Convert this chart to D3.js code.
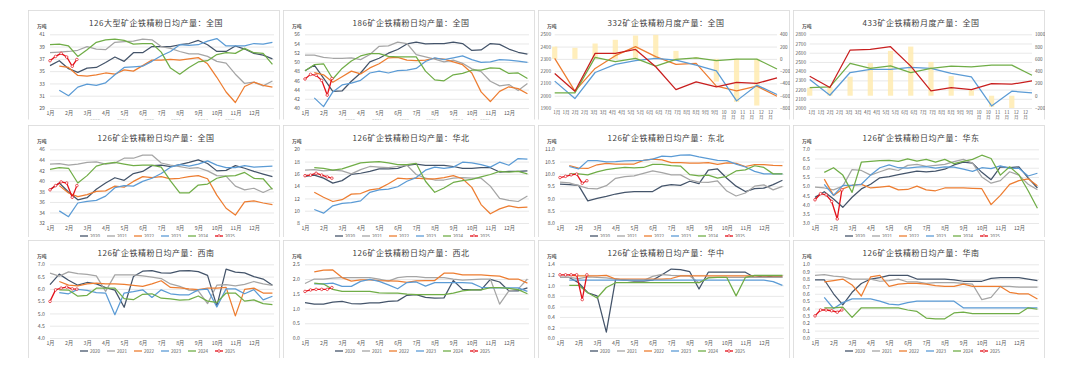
<!DOCTYPE html>
<html>
<head>
<meta charset="utf-8">
<script src="https://cdn.jsdelivr.net/npm/d3@7"></script>
<style>
  body { margin: 0; background: #fff; }
  text { font-family: "Noto Sans CJK SC", "DejaVu Sans", sans-serif; }
</style>
</head>
<body>
<svg id="chart" width="1080" height="371"></svg>
<script>
// ---- shared labels
var years = ["2020", "2021", "2022", "2023", "2024", "2025"];
var yearColors = ["#44546A", "#A5A5A5", "#ED7D31", "#5B9BD5", "#70AD47", "#E3121B"];
var monthLabels = ["1月","2月","3月","4月","5月","6月","7月","8月","9月","10月","11月","12月"];
var halfMonthLabels = ["1月","1月","2月","2月","3月","3月","4月","4月","5月","5月","6月","6月",
                       "7月","7月","8月","8月","9月","9月","10月","10月","11月","11月","12月","12月"];
// 2025 weekly points, in half-month units from 1 Jan
var x2025 = [0, 0.6, 1.2, 1.8, 2.4, 2.9];

// ---- panel 1: 126大型 全国
var p1Ticks = [29, 31, 33, 35, 37, 39, 41];
var p1 = [
  [35.9,36.7,35.4,34.8,35.5,35.6,36.4,37.3,36.6,38.0,38.0,39.0,39.0,39.0,39.3,39.5,40.0,39.3,38.2,38.2,39.1,38.6,37.9,37.6,37.0],
  [38.0,38.1,38.2,38.4,39.0,38.6,38.5,39.7,39.8,39.9,40.2,40.1,39.0,38.7,38.2,37.8,37.8,37.4,36.6,36.3,34.5,33.0,33.2,32.6,33.4],
  [null,35.8,35.6,34.3,34.2,34.4,34.7,34.5,35.2,35.0,35.9,36.8,36.8,36.9,36.8,37.0,37.2,36.2,34.0,31.6,29.9,32.5,33.2,32.7,32.4],
  [null,31.9,31.0,32.4,32.9,32.7,33.1,34.4,35.6,35.7,35.8,36.6,37.5,38.2,39.3,39.2,39.3,39.9,40.3,39.1,39.1,39.1,39.5,39.4,39.7],
  [39.3,39.4,39.1,37.4,38.5,39.7,40.1,40.2,40.0,39.4,39.5,39.5,38.1,35.5,34.5,35.6,36.5,36.7,37.7,38.0,37.9,38.7,38.0,37.9,36.1]
];
var p1Cur = [36.7, 37.4, 37.9, 37.3, 35.8, 36.9];

// ---- panel 2: 186 全国
var p2Ticks = [40, 42, 44, 46, 48, 50, 52, 54, 56];
var p2 = [
  [48.1,49.3,46.5,43.6,43.7,45.8,47.6,50.0,50.8,51.9,52.7,53.9,54.3,53.9,54.0,54.0,54.3,54.0,52.5,52.6,54.0,53.8,52.8,52.1,51.7],
  [51.5,51.5,51.0,50.8,50.8,50.9,50.5,51.6,53.4,53.5,54.3,54.0,51.6,51.1,50.6,50.0,50.4,49.7,48.5,47.9,45.8,44.8,45.1,43.8,45.3],
  [null,47.7,47.2,45.6,46.8,48.0,47.4,48.7,49.6,50.9,51.0,50.4,50.3,50.4,50.8,50.6,50.0,49.4,47.6,43.5,41.4,43.6,44.6,44.2,43.1],
  [null,42.2,40.3,43.5,45.0,45.4,46.0,47.6,48.0,47.6,48.1,48.2,48.6,50.1,50.9,50.5,50.9,51.3,50.5,49.9,50.0,50.5,50.4,50.2,49.9],
  [48.1,49.4,49.6,46.3,48.6,50.2,51.3,51.8,51.8,51.2,51.1,51.1,51.1,48.0,46.1,45.9,47.2,47.5,48.2,48.2,48.7,48.6,47.5,47.6,46.4]
];
var p2Cur = [46.3, 47.3, 47.1, 46.0, 42.8, 46.4];

// ---- panel 3: 332 月度 (left: output, right: 累计同比)
var p3Ticks = [1900, 2000, 2100, 2200, 2300, 2400, 2500];
var p3RightTicks = [-800, -600, -400, -200, 0, 200, 400];
var p3Colors = ["#ED7D31", "#5B9BD5", "#70AD47", "#C81E1E"];
var p3 = [
  [2304, 2037, 2222, 2326, 2400, 2318, 2255, 2263, 2078, 2040, 2078, 1996],
  [2119, 1977, 2189, 2255, 2285, 2304, 2290, 2249, 2203, 1958, 2086, 2010],
  [2023, 2023, 2312, 2277, 2304, 2241, 2296, 2309, 2285, 2298, 2298, 2217],
  [2181, 2037, 2345, 2345, 2377, 2236, 2050, 2113, 2072, 2108, 2100, 2146]
];
var p3Yoy = [200, 180, 250, 310, 380, 390, 130, 30, -370, -700, -760, null];

// ---- panel 4: 433 月度
var p4Ticks = [2000, 2100, 2200, 2300, 2400, 2500, 2600, 2700, 2800];
var p4RightTicks = [-200, 0, 200, 400, 600, 800, 1000];
var p4Colors = ["#5B9BD5", "#70AD47", "#C81E1E"];
var p4 = [
  [2309, 2138, 2385, 2418, 2418, 2440, 2429, 2375, 2338, 2022, 2182, 2164],
  [2222, 2229, 2484, 2429, 2458, 2385, 2429, 2455, 2447, 2465, 2465, 2356],
  [2345, 2222, 2629, 2636, 2665, 2455, 2185, 2222, 2200, 2265, 2258, 2295]
];
var p4Yoy = [130, 140, 310, 530, 730, 800, 550, 320, 90, -180, -200, null];

// ---- panel 5: 126 全国
var p5Ticks = [32, 34, 36, 38, 40, 42, 44, 46];
var p5 = [
  [38.3,39.6,37.9,36.4,36.8,38.4,39.6,40.6,40.1,41.4,41.8,42.9,43.0,42.7,43.1,43.5,44.0,43.3,41.9,42.0,42.9,42.4,41.8,41.3,40.8],
  [43.2,43.3,43.0,43.2,43.5,43.6,43.2,43.4,44.3,44.3,44.9,44.9,43.4,43.0,42.7,42.4,42.5,41.9,41.0,40.9,39.0,38.3,38.6,37.8,38.6],
  [null,39.1,37.7,37.0,37.4,38.0,38.1,39.0,38.8,39.9,40.8,40.6,40.8,40.4,40.5,40.8,41.0,40.4,37.3,34.8,33.5,36.0,36.2,35.8,35.5],
  [null,34.3,33.2,35.8,36.1,36.3,37.1,38.7,39.1,39.0,39.9,40.5,41.4,42.6,43.1,42.8,43.2,43.8,43.0,42.5,42.5,42.9,42.6,42.7,42.8],
  [42.2,42.5,42.4,39.6,41.0,42.8,43.3,43.5,43.2,42.9,43.0,43.0,42.6,40.0,37.7,37.7,39.2,39.4,40.5,40.9,41.0,41.6,40.5,40.4,38.4]
];
var p5Cur = [38.3, 39.1, 39.8, 39.6, 36.9, 39.1];

// ---- panel 6: 华北
var p6Ticks = [8, 10, 12, 14, 16, 18, 20];
var p6 = [
  [15.6,15.8,15.3,14.5,14.9,15.9,16.1,16.4,16.8,16.8,16.9,17.4,17.6,17.4,17.4,17.4,17.2,16.9,16.9,17.0,17.0,16.3,16.4,16.4,16.5],
  [16.6,16.7,16.5,16.6,16.5,16.0,16.7,17.2,17.1,17.0,17.2,17.4,15.9,15.3,15.0,15.0,15.3,15.4,15.3,15.3,14.0,12.0,11.7,11.5,12.4],
  [null,13.0,12.2,11.5,11.8,12.7,12.8,13.4,13.6,14.4,15.3,15.2,15.3,15.2,15.2,15.4,15.7,15.2,13.8,11.0,9.5,10.3,10.8,10.5,10.6],
  [null,10.2,9.6,10.8,11.2,11.3,11.6,13.0,13.4,13.5,13.9,14.8,15.4,16.6,17.1,16.9,17.1,17.9,17.8,17.5,17.1,17.9,17.4,18.5,18.4],
  [null,17.0,16.9,16.6,16.8,17.3,17.8,17.9,18.0,17.8,17.5,17.5,17.7,14.8,13.0,13.7,14.6,14.9,15.1,15.5,15.9,16.4,16.3,16.4,16.0]
];
var p6Cur = [15.7, 15.8, 16.1, 15.8, 15.5, 15.3];

// ---- panel 7: 东北
var p7Ticks = [8.0, 8.5, 9.0, 9.5, 10.0, 10.5, 11.0];
var p7 = [
  [9.58,9.56,9.53,8.9,9.0,9.08,9.18,9.25,9.28,9.28,9.28,9.50,9.56,9.53,9.70,9.60,10.15,10.2,9.82,9.50,9.28,9.40,9.42,9.56,9.74],
  [9.66,9.63,9.52,9.41,9.39,9.52,9.82,9.89,9.92,10.02,10.12,10.05,9.96,9.96,9.76,9.66,9.65,9.71,9.30,9.10,9.22,9.50,9.55,9.35,9.49],
  [null,10.34,10.23,10.22,10.37,10.43,10.4,10.4,10.4,10.55,10.6,10.57,10.46,10.46,10.44,10.44,10.46,10.39,10.45,10.43,10.3,10.38,10.38,10.35,10.34],
  [null,10.3,10.2,10.54,10.54,10.49,10.5,10.53,10.54,10.55,10.6,10.72,10.7,10.76,10.77,10.69,10.62,10.55,10.54,10.4,10.28,10.1,10.0,10.0,10.0],
  [null,10.0,10.0,9.96,10.08,10.17,10.22,10.26,10.24,10.26,10.39,10.39,10.34,10.32,9.97,9.92,9.95,9.83,9.9,10.12,10.16,10.33,10.26,10.0,10.0]
];
var p7Cur = [9.85, 9.9, 9.96, 9.99, 9.62, 9.72];

// ---- panel 8: 华东
var p8Ticks = [3.0, 3.5, 4.0, 4.5, 5.0, 5.5, 6.0, 6.5, 7.0];
var p8 = [
  [4.39,4.7,4.3,3.85,4.4,4.85,5.1,5.45,5.52,5.62,5.72,5.82,5.78,5.82,5.92,6.15,6.3,6.25,5.75,5.35,6.05,6.0,6.05,5.45,4.9],
  [4.95,4.9,4.8,5.0,5.9,5.85,5.6,5.78,5.95,5.85,6.13,6.18,6.08,6.13,6.18,6.33,6.45,6.25,5.5,5.16,5.3,5.78,5.6,5.1,4.8],
  [null,5.38,4.5,4.85,5.05,5.1,4.9,4.95,5.0,4.8,4.82,5.0,4.8,4.75,4.9,4.9,4.9,4.88,4.86,4.0,4.5,5.1,5.3,5.4,5.02],
  [null,5.1,4.5,5.04,5.04,5.1,5.6,6.0,6.15,6.0,5.98,6.03,6.06,5.98,6.05,6.03,5.92,5.8,6.0,5.95,6.1,5.97,5.97,5.55,5.7],
  [null,5.75,6.0,5.6,4.66,6.3,6.35,6.39,6.4,6.35,6.48,6.36,6.45,6.3,6.45,6.22,6.35,6.45,6.68,6.5,5.6,6.05,5.62,4.75,3.8]
];
var p8Cur = [4.26, 4.59, 4.53, 4.17, 3.22, 4.8];

// ---- panel 9: 西南
var p9Ticks = [4.0, 4.5, 5.0, 5.5, 6.0, 6.5, 7.0];
var p9 = [
  [6.17,6.6,6.35,6.15,6.26,6.2,6.05,5.95,5.25,6.5,6.72,6.74,6.65,6.64,6.73,6.74,6.7,6.55,5.3,6.8,6.68,6.65,6.5,6.4,6.15],
  [6.64,6.52,6.69,6.62,6.59,6.53,5.9,6.57,6.57,6.57,6.53,6.48,6.42,6.2,6.1,5.95,5.92,5.4,6.15,6.17,6.12,6.18,6.3,6.2,6.14],
  [null,6.3,6.15,6.12,6.2,6.23,6.2,6.2,6.18,6.14,6.1,6.2,6.33,6.06,6.04,6.0,5.97,6.03,6.03,6.06,4.9,5.98,6.03,5.83,5.83],
  [null,5.85,5.8,5.98,5.94,5.85,5.83,4.95,5.83,5.89,5.96,5.65,5.96,5.8,5.76,5.76,5.96,5.99,5.26,6.0,6.0,5.8,5.97,5.55,5.7],
  [null,5.96,5.95,5.7,5.74,6.03,6.03,6.03,5.6,5.56,5.78,5.8,5.62,5.59,5.54,5.56,5.71,5.5,5.45,5.83,5.83,5.5,5.55,5.4,5.36]
];
var p9Cur = [5.49, 5.96, 6.03, 6.07, 6.0, 5.99];

// ---- panel 10: 西北
var p10Ticks = [0.0, 0.5, 1.0, 1.5, 2.0, 2.5];
var p10 = [
  [1.2,1.15,1.15,1.22,1.24,1.17,1.16,1.19,1.19,1.24,1.26,1.45,1.47,1.38,1.35,1.36,1.95,1.65,1.63,1.63,1.99,1.9,1.6,1.6,1.7],
  [1.85,2.0,2.0,2.03,2.05,2.05,2.05,2.05,2.0,1.93,2.05,2.08,2.08,2.05,2.05,2.05,2.0,1.96,1.98,2.0,2.0,1.15,1.6,1.66,2.0],
  [null,2.24,2.3,2.31,2.05,1.93,1.97,1.97,1.95,1.94,1.93,1.89,1.94,1.95,1.95,2.2,2.2,2.14,2.14,2.14,2.12,2.1,2.0,2.0,1.86],
  [null,1.84,1.84,1.86,1.75,1.75,1.92,1.99,1.92,1.8,1.67,1.88,1.9,1.76,1.88,1.88,1.88,1.88,1.86,1.72,1.7,1.7,1.7,1.7,1.58],
  [null,1.86,1.83,1.65,1.58,1.58,1.58,1.58,1.53,1.52,1.52,1.49,1.47,1.47,1.47,1.47,1.52,1.6,1.63,1.63,1.71,1.71,1.68,1.64,1.5]
];
var p10Cur = [1.58, 1.63, 1.65, 1.65, 1.65, 1.71];

// ---- panel 11: 华中
var p11Ticks = [0.0, 0.2, 0.4, 0.6, 0.8, 1.0, 1.2, 1.4];
var p11 = [
  [1.15,1.15,1.05,0.86,0.80,0.11,1.12,1.1,1.08,1.08,1.1,1.2,1.31,1.3,1.26,0.93,1.25,1.25,1.25,1.25,1.25,1.15,1.18,1.16,1.16],
  [1.15,1.15,1.13,1.16,1.15,1.14,1.12,1.1,1.09,1.09,1.17,1.21,1.19,1.18,1.18,1.05,1.15,1.15,1.15,1.15,1.15,1.15,1.15,1.15,1.15],
  [null,1.19,1.18,1.18,1.18,1.19,1.12,1.12,1.12,1.12,1.12,1.12,1.13,1.18,1.18,1.18,1.18,1.18,1.18,1.18,1.18,1.18,1.18,1.18,1.18],
  [null,1.1,1.1,1.1,1.1,1.1,1.1,1.1,1.1,1.1,1.1,1.1,1.1,1.1,1.1,1.1,1.1,1.1,1.1,1.1,1.1,1.1,1.1,1.07,1.0],
  [null,1.0,1.0,0.86,0.76,0.96,1.05,1.05,1.05,1.05,1.05,1.05,1.05,1.05,1.05,1.05,1.14,1.15,1.15,0.8,1.15,1.19,1.19,1.19,1.19]
];
var p11Cur = [1.2, 1.2, 1.2, 1.2, 0.73, 1.2];

// ---- panel 12: 华南
var p12Ticks = [0.0, 0.1, 0.2, 0.3, 0.4, 0.5, 0.6, 0.7, 0.8, 0.9, 1.0];
var p12 = [
  [0.79,0.79,0.6,0.45,0.62,0.74,0.8,0.82,0.85,0.85,0.85,0.8,0.8,0.8,0.8,0.79,0.77,0.77,0.77,0.81,0.82,0.82,0.82,0.8,0.78],
  [0.85,0.86,0.84,0.83,0.8,0.8,0.8,0.77,0.78,0.8,0.76,0.76,0.74,0.75,0.75,0.75,0.74,0.73,0.52,0.55,0.7,0.7,0.69,0.69,0.69],
  [null,0.76,0.78,0.8,0.72,0.57,0.83,0.85,0.7,0.73,0.74,0.74,0.73,0.71,0.7,0.7,0.73,0.7,0.7,0.7,0.7,0.62,0.6,0.6,0.53],
  [null,0.55,0.4,0.48,0.53,0.53,0.53,0.5,0.46,0.45,0.48,0.5,0.5,0.5,0.5,0.5,0.41,0.41,0.41,0.41,0.41,0.41,0.41,0.41,0.41],
  [null,0.41,0.41,0.42,0.28,0.41,0.41,0.41,0.41,0.41,0.38,0.36,0.27,0.26,0.26,0.34,0.35,0.33,0.33,0.33,0.33,0.33,0.33,0.41,0.39]
];
var p12Cur = [0.30, 0.38, 0.38, 0.37, 0.35, 0.38];

// ---- layout
var colX = [28, 283, 538, 793];
var rowY = [10, 125, 240];
var rowH = [109.5, 112, 118];
var panelW = 252;
var plotTop = 24.3, plotBot = 98;

var panels = [
  {r:0, c:0, kind:"daily", title:"126大型矿企铁精粉日均产量：全国", ticks:p1Ticks, series:p1, cur:p1Cur, fmt:d3.format("d")},
  {r:0, c:1, kind:"daily", title:"186矿企铁精粉日均产量：全国", ticks:p2Ticks, series:p2, cur:p2Cur, fmt:d3.format("d")},
  {r:0, c:2, kind:"month", title:"332矿企铁精粉月度产量：全国", ticks:p3Ticks, rticks:p3RightTicks, series:p3, yoy:p3Yoy, colors:p3Colors},
  {r:0, c:3, kind:"month", title:"433矿企铁精粉月度产量：全国", ticks:p4Ticks, rticks:p4RightTicks, series:p4, yoy:p4Yoy, colors:p4Colors},
  {r:1, c:0, kind:"daily", title:"126矿企铁精粉日均产量：全国", ticks:p5Ticks, series:p5, cur:p5Cur, fmt:d3.format("d")},
  {r:1, c:1, kind:"daily", title:"126矿企铁精粉日均产量：华北", ticks:p6Ticks, series:p6, cur:p6Cur, fmt:d3.format("d")},
  {r:1, c:2, kind:"daily", title:"126矿企铁精粉日均产量：东北", ticks:p7Ticks, series:p7, cur:p7Cur, fmt:d3.format(".1f")},
  {r:1, c:3, kind:"daily", title:"126矿企铁精粉日均产量：华东", ticks:p8Ticks, series:p8, cur:p8Cur, fmt:d3.format(".1f")},
  {r:2, c:0, kind:"daily", title:"126矿企铁精粉日均产量：西南", ticks:p9Ticks, series:p9, cur:p9Cur, fmt:d3.format(".1f")},
  {r:2, c:1, kind:"daily", title:"126矿企铁精粉日均产量：西北", ticks:p10Ticks, series:p10, cur:p10Cur, fmt:d3.format(".1f")},
  {r:2, c:2, kind:"daily", title:"126矿企铁精粉日均产量：华中", ticks:p11Ticks, series:p11, cur:p11Cur, fmt:d3.format(".1f")},
  {r:2, c:3, kind:"daily", title:"126矿企铁精粉日均产量：华南", ticks:p12Ticks, series:p12, cur:p12Cur, fmt:d3.format(".1f")}
];

var svg = d3.select("#chart");
var defs = svg.append("defs");

function styleAxis(ax, size) {
  ax.select(".domain").remove();
  ax.selectAll(".tick line").attr("stroke", "#d9d9d9").attr("stroke-width", 0.6);
  ax.selectAll(".tick text").attr("font-size", size || 5.2).attr("fill", "#595959")
    .style("font-family", "'Noto Sans CJK SC', sans-serif");
}

panels.forEach(function(p, n) {
  var h = rowH[p.r];
  var g = svg.append("g").attr("transform", "translate(" + colX[p.c] + "," + rowY[p.r] + ")");
  defs.append("clipPath").attr("id", "clip" + n)
    .append("rect").attr("width", panelW).attr("height", h);
  g.attr("clip-path", "url(#clip" + n + ")");

  g.append("rect").attr("x", 0.5).attr("y", 0.5).attr("width", panelW - 1).attr("height", h + 5)
    .attr("fill", "#fff").attr("stroke", "#d9d9d9").attr("stroke-width", 0.8);

  g.append("text").attr("x", panelW / 2 + 2).attr("y", 16)
    .attr("text-anchor", "middle").attr("font-size", 8).attr("letter-spacing", 0.5)
    .attr("fill", "#404040").text(p.title);
  g.append("text").attr("x", 9).attr("y", 17.5)
    .attr("font-size", 4.8).attr("font-weight", "bold").attr("fill", "#595959").text("万吨");

  if (p.kind === "daily") drawDaily(g, p);
  else drawMonthly(g, p);
});

function drawDaily(g, p) {
  var x = d3.scaleLinear().domain([0, 24.17]).range([22, 246]);
  var y = d3.scaleLinear().domain(d3.extent(p.ticks)).range([plotBot, plotTop]);

  var ya = g.append("g").attr("transform", "translate(22,0)")
    .call(d3.axisLeft(y).tickValues(p.ticks).tickSize(-224).tickPadding(5).tickFormat(p.fmt));
  styleAxis(ya);

  var xa = g.append("g").attr("transform", "translate(0," + plotBot + ")")
    .call(d3.axisBottom(x).tickValues(d3.range(0, 24, 2)).tickSize(0).tickPadding(3.5)
      .tickFormat(function(d) { return monthLabels[d / 2]; }));
  styleAxis(xa);

  var line = d3.line().defined(function(d) { return d[1] != null; })
    .x(function(d) { return x(d[0]); }).y(function(d) { return y(d[1]); });

  p.series.forEach(function(vals, k) {
    g.append("path").attr("d", line(vals.map(function(v, i) { return [i, v]; })))
      .attr("fill", "none").attr("stroke", yearColors[k]).attr("stroke-width", 1.25)
      .attr("stroke-linejoin", "round");
  });

  var cur = x2025.map(function(t, i) { return [t, p.cur[i]]; });
  g.append("path").attr("d", line(cur)).attr("fill", "none")
    .attr("stroke", yearColors[5]).attr("stroke-width", 1.3);
  g.selectAll(".m25").data(cur).join("circle")
    .attr("cx", function(d) { return x(d[0]); }).attr("cy", function(d) { return y(d[1]); })
    .attr("r", 1.3).attr("fill", "#fff").attr("stroke", yearColors[5]).attr("stroke-width", 0.7);

  // legend
  var lg = g.append("g").attr("transform", "translate(52,111)");
  var item = lg.selectAll("g").data(years).join("g")
    .attr("transform", function(d, i) { return "translate(" + (i * 27) + ",0)"; });
  item.append("line").attr("x1", 0).attr("x2", 8).attr("y1", 0).attr("y2", 0)
    .attr("stroke", function(d, i) { return yearColors[i]; }).attr("stroke-width", 1.3);
  item.filter(function(d, i) { return i === 5; }).append("circle")
    .attr("cx", 4).attr("cy", 0).attr("r", 1.3).attr("fill", "#fff")
    .attr("stroke", yearColors[5]).attr("stroke-width", 0.7);
  item.append("text").attr("x", 10).attr("y", 1.6).attr("font-size", 4.5)
    .attr("fill", "#595959").text(function(d) { return d; });
}

function drawMonthly(g, p) {
  var x = d3.scaleLinear().domain([0, 11]).range([16.7, 239]);
  var xl = d3.scaleLinear().domain([0, 23]).range([18.3, 232]);
  var y = d3.scaleLinear().domain(d3.extent(p.ticks)).range([plotBot, plotTop]);
  var yr = d3.scaleLinear().domain(d3.extent(p.rticks)).range([plotBot, plotTop]);

  var ya = g.append("g").attr("transform", "translate(16.7,0)")
    .call(d3.axisLeft(y).tickValues(p.ticks).tickSize(-222.3).tickPadding(3.5).tickFormat(d3.format("d")));
  styleAxis(ya, 4.8);
  var ra = g.append("g").attr("transform", "translate(240.5,0)")
    .call(d3.axisRight(yr).tickValues(p.rticks).tickSize(0).tickPadding(1.5).tickFormat(d3.format("d")));
  styleAxis(ra, 4.6);

  var xa = g.append("g").attr("transform", "translate(0," + plotBot + ")")
    .call(d3.axisBottom(xl).tickValues(d3.range(24)).tickSize(0).tickPadding(3)
      .tickFormat(function(d) { return halfMonthLabels[d]; }));
  styleAxis(xa, 4.6);
  xa.selectAll(".tick text").each(function(d) {
    var s = halfMonthLabels[d];
    if (s.length > 2) {
      var t = d3.select(this).text(null);
      t.append("tspan").attr("x", 0).text(s.slice(0, 2));
      t.append("tspan").attr("x", 0).attr("dy", "1.05em").text("月");
    }
  });

  // 累计同比 bars
  var bars = p.yoy.map(function(v, i) { return [i, v]; }).filter(function(d) { return d[1] != null; });
  g.selectAll(".bar").data(bars).join("rect")
    .attr("x", function(d) { return x(d[0]) - 2.6; }).attr("width", 5.2)
    .attr("y", function(d) { return Math.min(yr(0), yr(d[1])); })
    .attr("height", function(d) { return Math.abs(yr(d[1]) - yr(0)); })
    .attr("fill", "#FFEBB0").attr("opacity", 0.85);

  var line = d3.line().x(function(d, i) { return x(i); }).y(function(d) { return y(d); });
  p.series.forEach(function(vals, k) {
    g.append("path").attr("d", line(vals)).attr("fill", "none")
      .attr("stroke", p.colors[k]).attr("stroke-width", 1.25).attr("stroke-linejoin", "round");
  });

  // legend: only its first entry peeks above the panel edge
  var lg = g.append("g").attr("transform", "translate(" + (p.c === 2 ? 60 : 68) + ",113)");
  lg.append("rect").attr("x", 0).attr("y", -2.5).attr("width", 5).attr("height", 5).attr("fill", "#FFEBB0");
  lg.append("text").attr("x", 7).attr("y", 1.6).attr("font-size", 4.8).attr("fill", "#595959").text("累计同比");
}
</script>
</body>
</html>
